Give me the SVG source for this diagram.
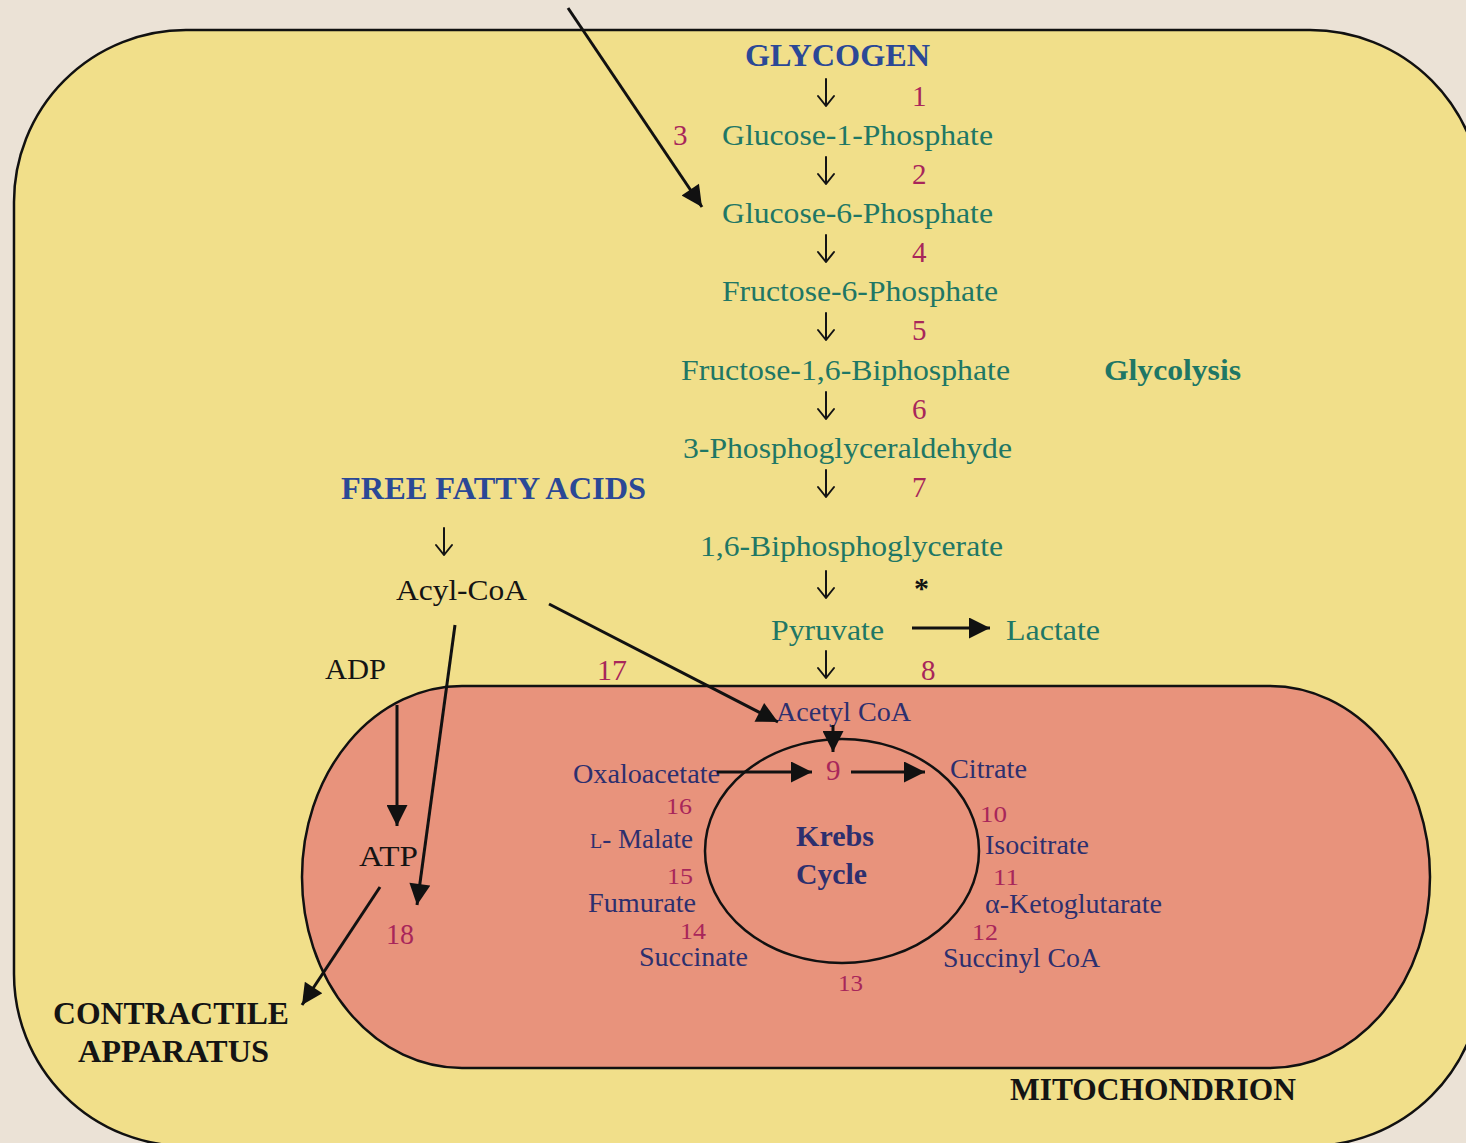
<svg xmlns="http://www.w3.org/2000/svg" width="1466" height="1143" viewBox="0 0 1466 1143">
<defs>
<style>
text{font-family:"Liberation Serif","Times New Roman",serif;}
.g{fill:#1f7765;font-size:30px;}
.n{fill:#a8265a;font-size:29px;}
.nk{fill:#a8265a;font-size:24px;}
.k{fill:#2d2f6e;font-size:27px;}
.blk{fill:#141414;font-size:30px;}
.ttl{font-weight:bold;fill:#2b4896;font-size:32px;}
.bb{font-weight:bold;fill:#141414;font-size:32px;}
.ln{stroke:#111;stroke-width:3;fill:none;}
.dn{stroke:#141414;stroke-width:2;fill:none;stroke-linecap:round;stroke-linejoin:round;}
</style>
<marker id="ah" viewBox="0 0 10 10" refX="10" refY="5" markerWidth="8" markerHeight="7" markerUnits="strokeWidth" orient="auto">
<path d="M0,0 L10,5 L0,10 z" fill="#111"/>
</marker>
<path id="down" d="M0,-27 V0 M-8,-10 L0,0 L8,-10"/>
</defs>
<rect width="1466" height="1143" fill="#ebe2d6"/>
<g id="cell">
<rect x="14" y="30" width="1468" height="1116" rx="172" ry="172" fill="#f1df8a" stroke="#111" stroke-width="2.5"/>
</g>
<g id="mitochondrion">
<rect x="302" y="686" width="1128" height="382" rx="160" ry="191" fill="#e8937c" stroke="#111" stroke-width="2.5"/>
<text class="bb" x="1010" y="1100" textLength="286" lengthAdjust="spacingAndGlyphs" font-size="31">MITOCHONDRION</text>
</g>
<g id="krebs-cycle">
<ellipse cx="842" cy="851" rx="137" ry="112" fill="none" stroke="#111" stroke-width="2.5"/>
<text x="796" y="846" font-weight="bold" fill="#2d2f6e" font-size="30" textLength="78" lengthAdjust="spacingAndGlyphs">Krebs</text>
<text x="796" y="884" font-weight="bold" fill="#2d2f6e" font-size="30" textLength="71" lengthAdjust="spacingAndGlyphs">Cycle</text>
</g>
<g id="glycolysis-pathway">
<text class="ttl" x="745" y="66" textLength="185" lengthAdjust="spacingAndGlyphs">GLYCOGEN</text>
<text class="n" x="912" y="106">1</text>
<text class="n" x="673" y="145">3</text>
<text class="g" x="722" y="145" textLength="271" lengthAdjust="spacingAndGlyphs">Glucose-1-Phosphate</text>
<text class="n" x="912" y="184">2</text>
<text class="g" x="722" y="223" textLength="271" lengthAdjust="spacingAndGlyphs">Glucose-6-Phosphate</text>
<text class="n" x="912" y="262">4</text>
<text class="g" x="722" y="301" textLength="276" lengthAdjust="spacingAndGlyphs">Fructose-6-Phosphate</text>
<text class="n" x="912" y="340">5</text>
<text class="g" x="681" y="380" textLength="329" lengthAdjust="spacingAndGlyphs">Fructose-1,6-Biphosphate</text>
<text x="1104" y="380" font-weight="bold" fill="#1f7765" font-size="30" textLength="137" lengthAdjust="spacingAndGlyphs">Glycolysis</text>
<text class="n" x="912" y="419">6</text>
<text class="g" x="683" y="458" textLength="329" lengthAdjust="spacingAndGlyphs">3-Phosphoglyceraldehyde</text>
<text class="n" x="912" y="497">7</text>
<text class="g" x="700" y="556" textLength="303" lengthAdjust="spacingAndGlyphs">1,6-Biphosphoglycerate</text>
<text x="914" y="598" fill="#141414" font-size="30" font-weight="bold">*</text>
<text class="g" x="771" y="640" textLength="113" lengthAdjust="spacingAndGlyphs">Pyruvate</text>
<text class="g" x="1006" y="640" textLength="94" lengthAdjust="spacingAndGlyphs">Lactate</text>
<text class="n" x="921" y="680">8</text>
</g>
<g id="fatty-acids">
<text class="ttl" x="341" y="499" textLength="305" lengthAdjust="spacingAndGlyphs" font-size="30">FREE FATTY ACIDS</text>
<text class="blk" x="396" y="600" textLength="131" lengthAdjust="spacingAndGlyphs">Acyl-CoA</text>
</g>
<g id="energy">
<text class="blk" x="325" y="679" textLength="61" lengthAdjust="spacingAndGlyphs">ADP</text>
<text class="n" x="597" y="680" textLength="30" lengthAdjust="spacingAndGlyphs">17</text>
<text class="blk" x="359" y="866" textLength="59" lengthAdjust="spacingAndGlyphs">ATP</text>
<text class="n" x="386" y="944" textLength="28" lengthAdjust="spacingAndGlyphs">18</text>
</g>
<g id="contractile-apparatus">
<text class="bb" x="53" y="1024" textLength="236" lengthAdjust="spacingAndGlyphs">CONTRACTILE</text>
<text class="bb" x="78" y="1062" textLength="191" lengthAdjust="spacingAndGlyphs">APPARATUS</text>
</g>
<g id="krebs-labels">
<text class="k" x="776" y="721" textLength="135" lengthAdjust="spacingAndGlyphs" font-size="26">Acetyl CoA</text>
<text class="k" x="573" y="783" textLength="147" lengthAdjust="spacingAndGlyphs">Oxaloacetate</text>
<text class="n" x="826" y="780" font-size="27">9</text>
<text class="k" x="950" y="778" textLength="77" lengthAdjust="spacingAndGlyphs">Citrate</text>
<text class="nk" x="666" y="814" textLength="26" lengthAdjust="spacingAndGlyphs">16</text>
<text class="nk" x="980" y="822" textLength="27" lengthAdjust="spacingAndGlyphs">10</text>
<text class="k" x="590" y="848"><tspan font-size="20">L</tspan><tspan>- Malate</tspan></text>
<text class="k" x="985" y="854" textLength="104" lengthAdjust="spacingAndGlyphs">Isocitrate</text>
<text class="nk" x="667" y="884" textLength="26" lengthAdjust="spacingAndGlyphs">15</text>
<text class="nk" x="993" y="885" textLength="26" lengthAdjust="spacingAndGlyphs">11</text>
<text class="k" x="588" y="912" textLength="108" lengthAdjust="spacingAndGlyphs">Fumurate</text>
<text class="k" x="985" y="913" textLength="177" lengthAdjust="spacingAndGlyphs">α-Ketoglutarate</text>
<text class="nk" x="680" y="939" textLength="26" lengthAdjust="spacingAndGlyphs">14</text>
<text class="nk" x="972" y="940" textLength="26" lengthAdjust="spacingAndGlyphs">12</text>
<text class="k" x="639" y="966" textLength="109" lengthAdjust="spacingAndGlyphs">Succinate</text>
<text class="k" x="943" y="967" textLength="157" lengthAdjust="spacingAndGlyphs">Succinyl CoA</text>
<text class="nk" x="838" y="991" textLength="25" lengthAdjust="spacingAndGlyphs">13</text>
</g>
<g id="connectors">
<use href="#down" class="dn" x="826" y="106"/>
<use href="#down" class="dn" x="826" y="184"/>
<use href="#down" class="dn" x="826" y="262"/>
<use href="#down" class="dn" x="826" y="340"/>
<use href="#down" class="dn" x="826" y="419"/>
<use href="#down" class="dn" x="826" y="497"/>
<use href="#down" class="dn" x="826" y="598"/>
<use href="#down" class="dn" x="826" y="678"/>
<use href="#down" class="dn" x="444" y="555"/>
<line class="ln" x1="568" y1="8" x2="702" y2="207" marker-end="url(#ah)"/>
<line class="ln" x1="912" y1="628" x2="990" y2="628" marker-end="url(#ah)"/>
<line class="ln" x1="549" y1="604" x2="778" y2="722" marker-end="url(#ah)"/>
<line class="ln" x1="455" y1="625" x2="417" y2="905" marker-end="url(#ah)"/>
<line class="ln" x1="397" y1="705" x2="397" y2="826" marker-end="url(#ah)"/>
<line class="ln" x1="380" y1="887" x2="302" y2="1005" marker-end="url(#ah)"/>
<line class="ln" stroke-width="2" x1="833" y1="725" x2="833" y2="752" marker-end="url(#ah)"/>
<line class="ln" x1="717" y1="772" x2="812" y2="772" marker-end="url(#ah)"/>
<line class="ln" x1="851" y1="772" x2="925" y2="772" marker-end="url(#ah)"/>
</g>
</svg>
